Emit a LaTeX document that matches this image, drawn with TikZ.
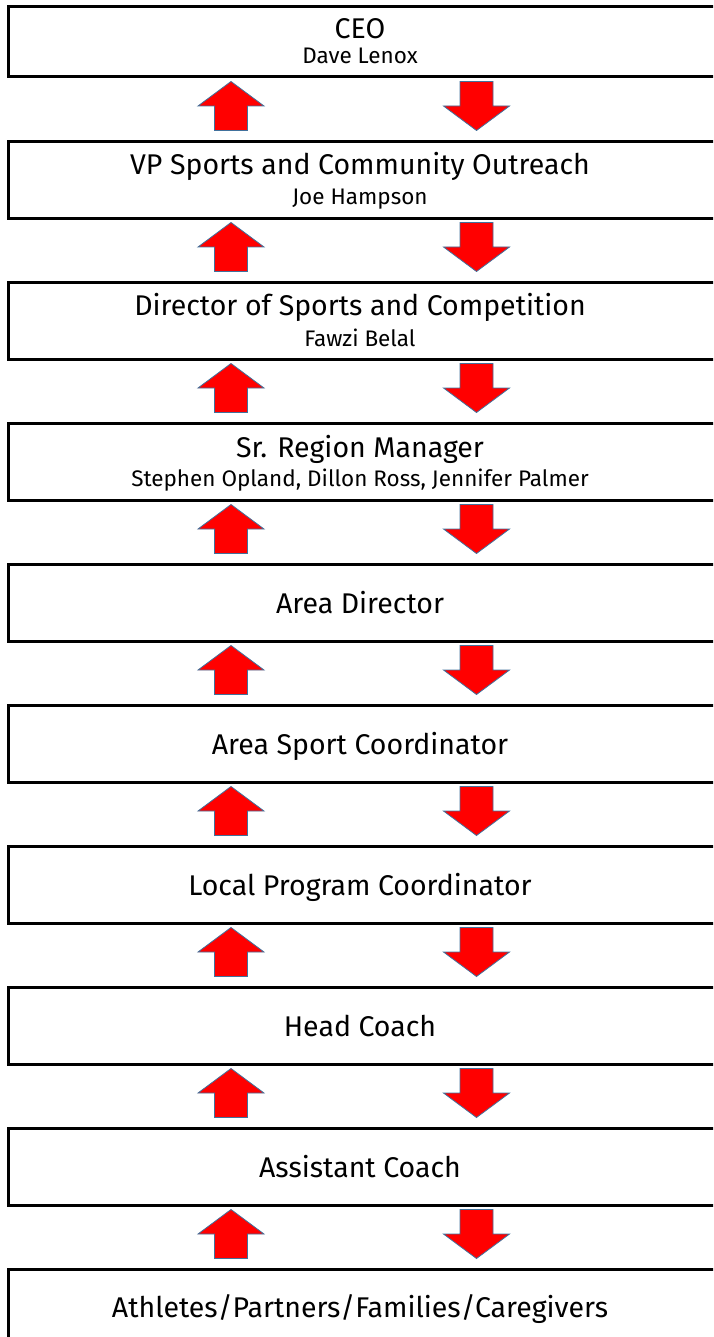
\documentclass[tikz,border=0pt]{standalone}
\usepackage{fontspec}
\setmainfont{Fira Sans}
\definecolor{arrowred}{RGB}{255,0,0}
\definecolor{arrowedge}{RGB}{65,113,156}
\tikzset{
  box/.style={draw, line width=3pt, rectangle, anchor=north west,
    minimum width=713pt, inner sep=0pt},
  title/.style={anchor=base, inner sep=0pt, font=\fontsize{28.5}{34}\selectfont},
  sub/.style={anchor=base, inner sep=0pt, font=\fontsize{22.5}{27}\selectfont},
  blockarrow/.style={fill=arrowred, draw=arrowedge, line width=0.8pt},
  uparr/.pic={
    \filldraw[blockarrow] (0,-24.5) -- (33,0) -- (16.5,0) -- (16.5,24.5)
      -- (-16.5,24.5) -- (-16.5,0) -- (-33,0) -- cycle;
  },
  downarr/.pic={
    \filldraw[blockarrow] (0,24.5) -- (33,0) -- (16.5,0) -- (16.5,-24.5)
      -- (-16.5,-24.5) -- (-16.5,0) -- (-33,0) -- cycle;
  }
}
\begin{document}
\begin{tikzpicture}[x=1pt, y=-1pt]
  \useasboundingbox (0,0) rectangle (713,1337);
  \clip (0,0) rectangle (713,1337);
  % the boxes
  \node[box, minimum height=70.6pt] (ceo) at (7,4.7) {};
  \node[box, minimum height=76.7pt] (vp) at (7,140) {};
  \node[box, minimum height=76.7pt] (dir) at (7,281) {};
  \node[box, minimum height=76.7pt] (srm) at (7,422) {};
  \node[box, minimum height=76.7pt] (ad) at (7,563) {};
  \node[box, minimum height=76.7pt] (asc) at (7,704) {};
  \node[box, minimum height=76.7pt] (lpc) at (7,845) {};
  \node[box, minimum height=76.7pt] (hc) at (7,986) {};
  \node[box, minimum height=76.7pt] (ac) at (7,1127) {};
  \node[box, minimum height=76.7pt] (ath) at (7,1268) {};
  % the texts
  \node[title] (ceoT) at (360,38.5) {CEO};
  \node[sub] (ceoS) at (360,63.5) {Dave Lenox};
  \node[title] (vpT) at (360,175) {VP Sports and Community Outreach};
  \node[sub] (vpS) at (360,205) {Joe Hampson};
  \node[title] (dirT) at (360,316) {Director of Sports and Competition};
  \node[sub] (dirS) at (360,346) {Fawzi Belal};
  \node[title] (srmT) at (360,457) {Sr. Region Manager};
  \node[sub] (srmS) at (360,486) {Stephen Opland, Dillon Ross, Jennifer Palmer};
  \node[title] (adT) at (360,613) {Area Director};
  \node[title] (ascT) at (360,754) {Area Sport Coordinator};
  \node[title] (lpcT) at (360,895) {Local Program Coordinator};
  \node[title] (hcT) at (360,1036) {Head Coach};
  \node[title] (acT) at (360,1177) {Assistant Coach};
  \node[title] (athT) at (360,1317) {Athletes/Partners/Families/Caregivers};
  % up and down arrows between the boxes
  \pic at (231,106) {uparr};   \pic at (476.5,106) {downarr};
  \pic at (231,247) {uparr};   \pic at (476.5,247) {downarr};
  \pic at (231,388) {uparr};   \pic at (476.5,388) {downarr};
  \pic at (231,529) {uparr};   \pic at (476.5,529) {downarr};
  \pic at (231,670) {uparr};   \pic at (476.5,670) {downarr};
  \pic at (231,811) {uparr};   \pic at (476.5,811) {downarr};
  \pic at (231,952) {uparr};   \pic at (476.5,952) {downarr};
  \pic at (231,1093) {uparr};  \pic at (476.5,1093) {downarr};
  \pic at (231,1234) {uparr};  \pic at (476.5,1234) {downarr};
\end{tikzpicture}
\end{document}
